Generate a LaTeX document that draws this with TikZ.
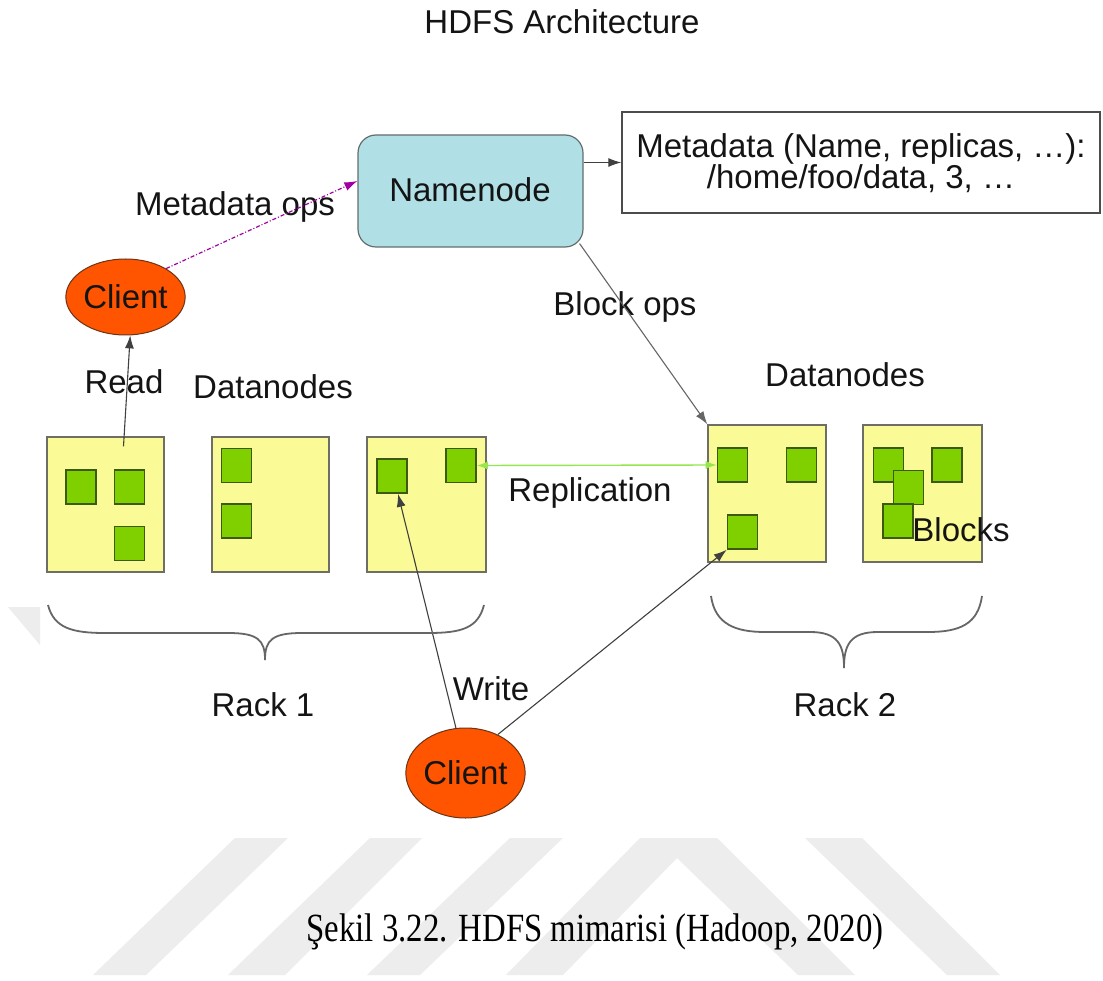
\documentclass[tikz,border=0pt]{standalone}
\usepackage{fontspec}
\setmainfont{Liberation Sans}
\newfontfamily\capfont{Liberation Serif}
\usetikzlibrary{shapes.geometric,arrows.meta}
\definecolor{nnfill}{RGB}{176,224,230}
\definecolor{nnline}{RGB}{100,110,110}
\definecolor{clfill}{RGB}{255,85,0}
\definecolor{clline}{RGB}{110,50,20}
\definecolor{dnfill}{RGB}{250,250,150}
\definecolor{dnline}{RGB}{110,110,100}
\definecolor{blfill}{RGB}{128,208,0}
\definecolor{blline}{RGB}{60,90,20}
\definecolor{repl}{RGB}{150,230,80}
\definecolor{mdops}{RGB}{160,0,160}
\definecolor{txt}{RGB}{20,20,20}
\definecolor{wmark}{RGB}{237,237,237}
\newcommand\dtxt{\fontsize{33}{31}\selectfont}
\tikzset{
  lbl/.style={font=\dtxt, text=txt, inner sep=0pt},
  datanode/.style={draw=dnline, fill=dnfill, line width=1.4pt, inner sep=0pt, minimum width=117pt, minimum height=135pt},
  blockbox/.style={draw=blline, fill=blfill, line width=1.6pt, inner sep=0pt, minimum width=30pt, minimum height=34pt},
  clientnode/.style={ellipse, draw=clline, fill=clfill, line width=1pt, inner sep=0pt, font=\dtxt, text=txt},
  conn/.style={draw=black!75, line width=1.1pt, -{Latex[length=13pt,width=9pt]}},
  bracepath/.style={draw=black!60, line width=1.8pt}
}
\begin{document}
\begin{tikzpicture}[x=1pt,y=-1pt]
\useasboundingbox (0,0) rectangle (1103,981);
\fill[white] (0,0) rectangle (1103,981);
% watermark fragments
\fill[wmark] (8,607) -- (40,607) -- (40,645) -- cycle;
\fill[wmark] (93,975) -- (235,838) -- (288,838) -- (146,975) -- cycle;
\fill[wmark] (228,975) -- (370,838) -- (422,838) -- (285,975) -- cycle;
\fill[wmark] (367,975) -- (510,838) -- (563,838) -- (420,975) -- cycle;
\fill[wmark] (506,975) -- (640,838) -- (717,838) -- (855,975) -- (798,975) -- (677,858) -- (563,975) -- cycle;
\fill[wmark] (805,838) -- (862,838) -- (1000,975) -- (947,975) -- cycle;

% title
\node[lbl] (title) at (562,22) {HDFS Architecture};

% namenode and metadata
\node[draw=nnline, fill=nnfill, line width=1.2pt, rounded corners=18pt, minimum width=225pt, minimum height=112pt, inner sep=0pt] (nn) at (470.5,191) {};
\node[lbl] (nnt) at (470,190) {Namenode};
\node[draw=black!70, fill=white, line width=1.4pt, minimum width=478pt, minimum height=101pt, inner sep=0pt] (meta) at (861,162.5) {};
\node[lbl, align=center] (metat) at (861,163) {Metadata (Name, replicas, …):\\/home/foo/data, 3, …};

% clients
\node[clientnode, minimum width=119pt, minimum height=76pt] (c1) at (125.5,297) {Client};
\node[clientnode, minimum width=117pt, minimum height=90pt] (c2) at (465.5,773) {Client};

% datanodes
\node[datanode] (dn1) at (105.5,504.5) {};
\node[datanode] (dn2) at (270.5,504.5) {};
\node[datanode, minimum width=119pt] (dn3) at (426.5,504.5) {};
\node[datanode, minimum width=118pt, minimum height=137pt] (dn4) at (767,493.5) {};
\node[datanode, minimum width=119pt, minimum height=137pt] (dn5) at (922.5,493.5) {};

% blocks
\node[blockbox] (b11) at (81,487) {};
\node[blockbox] (b12) at (129.5,487) {};
\node[blockbox] (b13) at (129.5,543.5) {};
\node[blockbox] (b21) at (236.5,465.5) {};
\node[blockbox] (b22) at (236.5,521) {};
\node[blockbox] (b31) at (392,476) {};
\node[blockbox] (b32) at (461,465.5) {};
\node[blockbox] (b41) at (732.5,465) {};
\node[blockbox] (b42) at (801.5,465) {};
\node[blockbox] (b43) at (742.5,532) {};
\node[blockbox] (b51) at (888.5,465) {};
\node[blockbox] (b52) at (908.5,487.5) {};
\node[blockbox] (b53) at (898,521) {};
\node[blockbox] (b54) at (947,465) {};

% labels
\node[lbl] (lmdops) at (235,207) {Metadata ops};
\node[lbl] (lblock) at (625,307) {Block ops};
\node[lbl] (lread) at (124,382) {Read};
\node[lbl] (ldn1) at (273,387) {Datanodes};
\node[lbl] (ldn2) at (845,375) {Datanodes};
\node[lbl] (lrepl) at (590,493) {Replication};
\node[lbl] (lblocks) at (961,530) {Blocks};
\node[lbl] (lrack1) at (263,705) {Rack 1};
\node[lbl] (lrack2) at (845,705) {Rack 2};
\node[lbl] (lwrite) at (491,689) {Write};

% connectors
\draw[conn] (nn.east |- meta.west) -- (meta.west);
\draw[draw=mdops, line width=1.2pt, dash pattern=on 4pt off 2pt on 1pt off 2pt, -{Latex[length=13pt,width=9pt]}] (c1.35) -- ([yshift=10pt]nn.west);
\draw[conn, draw=black!60] ([shift={(-4pt,4pt)}]nn.south east) -- (dn4.north west);
\draw[conn] ([shift={(18pt,-10pt)}]dn1.north) -- (c1.-83);
\draw[draw=repl, line width=1.4pt, {Latex[length=11pt,width=8pt]}-{Latex[length=11pt,width=8pt]}] (b32.east) -- (b41.west);
\draw[conn] (c2.102) -- ([xshift=6pt]b31.south);
\draw[conn] (c2.50) -- (b43.south west);

% braces
\draw[bracepath] (48,605) .. controls (54,628) and (72,633) .. (105,633) -- (228,633) .. controls (258,633) and (265,640) .. (265,660)
  .. controls (265,640) and (272,633) .. (302,633) -- (428,633) .. controls (462,633) and (478,628) .. (484,605);
\draw[bracepath] (711,596) .. controls (715,624) and (735,632) .. (765,632) -- (810,632) .. controls (838,632) and (844,645) .. (844,668)
  .. controls (844,645) and (850,632) .. (878,632) -- (928,632) .. controls (960,632) and (978,624) .. (982,596);

% caption
\node[inner sep=0pt, text=black] (cap) at (595,932) {\scalebox{0.82}[1]{\capfont\fontsize{40}{44}\selectfont Şekil 3.22. HDFS mimarisi (Hadoop, 2020)}};
\end{tikzpicture}
\end{document}
